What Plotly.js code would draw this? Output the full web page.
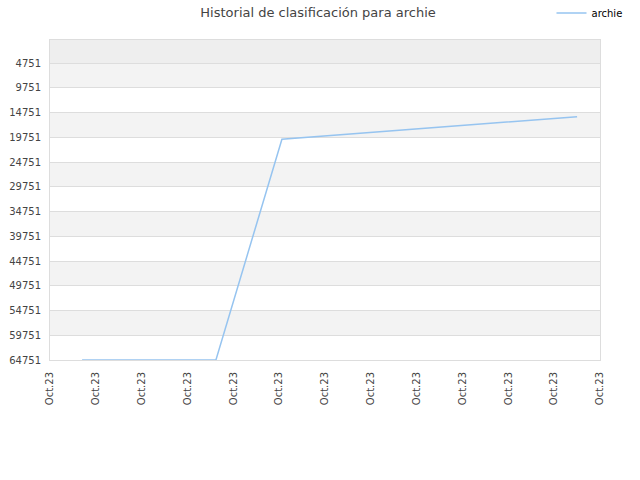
<!DOCTYPE html>
<html>
<head>
<meta charset="utf-8">
<script src="https://cdn.plot.ly/plotly-3.0.1.min.js"></script>
<style>body{margin:0;} #myDiv{width:640px;height:480px;}</style>
</head>
<body>
<div id="myDiv"></div>
<script>
// tick positions and labels
var xTicks = [0, 1, 2, 3, 4, 5, 6, 7, 8, 9, 10, 11, 12];
var xLabels = ['Oct.23', 'Oct.23', 'Oct.23', 'Oct.23', 'Oct.23', 'Oct.23', 'Oct.23',
  'Oct.23', 'Oct.23', 'Oct.23', 'Oct.23', 'Oct.23', 'Oct.23'];
var yTicks = [4751, 9751, 14751, 19751, 24751, 29751, 34751, 39751, 44751, 49751, 54751, 59751, 64751];
var yLabels = ['4751', '9751', '14751', '19751', '24751', '29751', '34751', '39751',
  '44751', '49751', '54751', '59751', '64751'];

// series
var days = [0.70, 3.62, 5.06, 8.3, 11.5];
var ranks = [64751, 64751, 20150, 17900, 15600];

var shapes = [];
// darker strip above the first tick
shapes.push({type: 'rect', xref: 'paper', yref: 'y', x0: 0, x1: 1, y0: 100, y1: yTicks[0],
  fillcolor: '#eeeeee', line: {width: 0}, layer: 'below'});
for (var i = 0; i < yTicks.length - 1; i += 2) {
  shapes.push({type: 'rect', xref: 'paper', yref: 'y', x0: 0, x1: 1, y0: yTicks[i], y1: yTicks[i + 1],
    fillcolor: '#f3f3f3', line: {width: 0}, layer: 'below'});
}

var trace1 = {
  x: days,
  y: ranks,
  mode: 'lines',
  name: 'archie',
  line: {color: 'rgb(150, 196, 240)', width: 1.5},
  type: 'scatter'
};

var layout = {
  width: 640,
  height: 480,
  margin: {l: 50, r: 40, t: 40, b: 120, autoexpand: false},
  paper_bgcolor: '#ffffff',
  plot_bgcolor: '#ffffff',
  font: {family: 'DejaVu Sans, sans-serif', size: 10, color: '#444444'},
  title: {text: 'Historial de clasificación para archie', x: 0.497, y: 0.984,
    font: {size: 13, color: '#444444'}},
  showlegend: true,
  legend: {x: 1.05, y: 1.13, xanchor: 'right', yanchor: 'top', font: {size: 10, color: '#000000'},
    bgcolor: 'rgba(0,0,0,0)', itemwidth: 30},
  shapes: shapes,
  xaxis: {
    range: [0, 12],
    tickvals: xTicks,
    ticktext: xLabels,
    tickangle: -90,
    showgrid: false,
    zeroline: false,
    showline: true,
    mirror: true,
    linecolor: '#dddddd',
    linewidth: 1,
    ticks: '',
    ticklabelstandoff: 7,
    tickfont: {size: 10, color: '#444444'}
  },
  yaxis: {
    range: [64751, 100],
    tickvals: yTicks,
    ticktext: yLabels,
    showgrid: true,
    gridcolor: '#dddddd',
    zeroline: false,
    showline: true,
    mirror: true,
    linecolor: '#dddddd',
    linewidth: 1,
    ticks: '',
    ticklabelstandoff: 6,
    tickfont: {size: 10, color: '#444444'}
  }
};

Plotly.newPlot('myDiv', [trace1], layout, {staticPlot: true});
</script>
</body>
</html>
